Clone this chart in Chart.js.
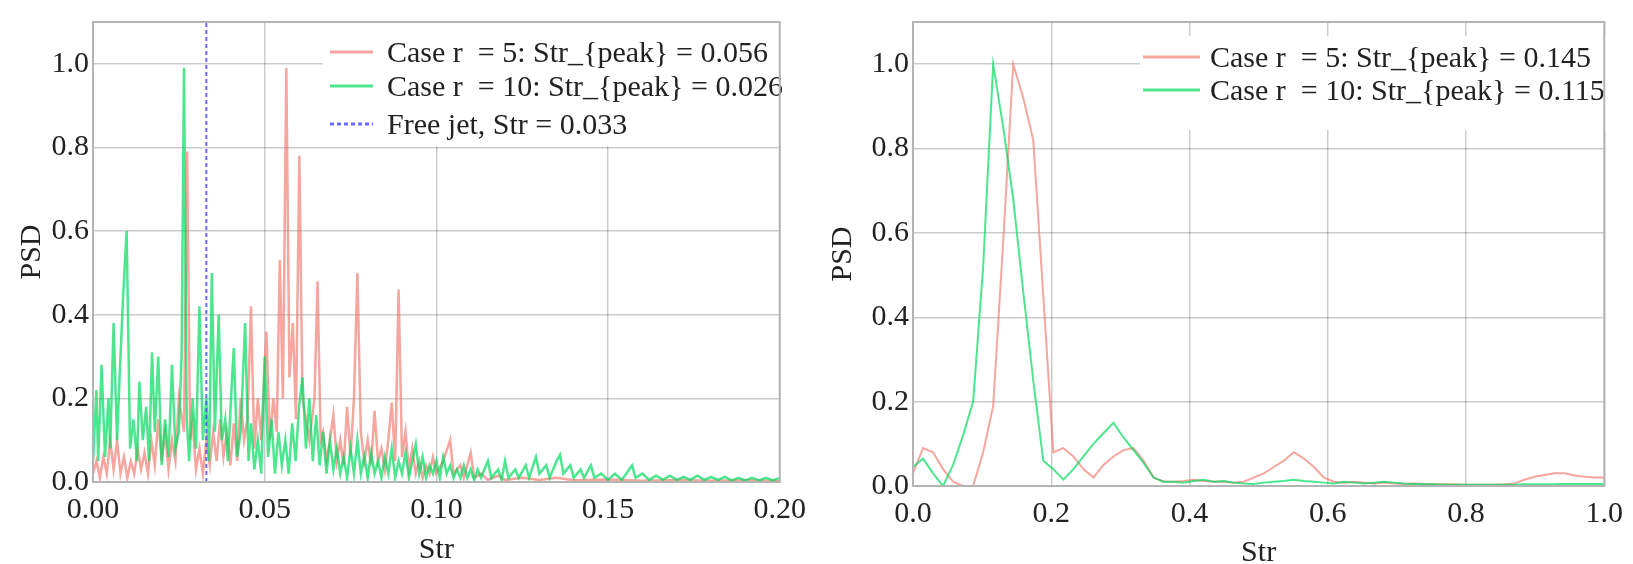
<!DOCTYPE html>
<html>
<head>
<meta charset="utf-8">
<title>PSD comparison</title>
<script src="https://cdn.jsdelivr.net/npm/chart.js@4/dist/chart.umd.min.js"></script>
<style>
  html, body { margin: 0; padding: 0; background: #fff; }
  #wrap { position: relative; width: 1633px; height: 564px; }
  canvas { position: absolute; top: 0; }
  #left { left: 0; }
  #right { left: 816px; }
</style>
</head>
<body>
<div id="wrap">
  <canvas id="left" width="816" height="564"></canvas>
  <canvas id="right" width="817" height="564"></canvas>
</div>
<script>
// left panel, [Str, PSD]
const leftRed = [
  [0,.02],[.001,.05],[.002,.01],[.003,.06],[.004,.02],[.005,.1],[.006,.03],[.007,.1],[.008,.02],[.009,.06],
  [.010,.01],[.011,.05],[.012,.02],[.013,.08],[.014,.03],[.015,.07],[.016,.02],[.017,.1],[.018,.04],[.019,.15],
  [.020,.05],[.021,.12],[.022,.03],[.023,.1],[.024,.05],[.025,.2],[.0265,.12],[.0274,.79],[.0283,.1],[.029,.14],
  [.030,.03],[.031,.08],[.032,.02],[.033,.1],[.034,.04],[.035,.12],[.036,.05],[.037,.15],[.038,.06],[.039,.12],
  [.040,.04],[.041,.14],[.042,.05],[.043,.2],[.044,.1],[.045,.15],[.046,.42],[.047,.08],[.048,.2],[.049,.1],
  [.0505,.36],[.0515,.1],[.0525,.2],[.0535,.12],[.0544,.53],[.0553,.2],[.0563,.99],[.0572,.25],[.0582,.38],[.0591,.15],
  [.0601,.78],[.061,.2],[.062,.15],[.063,.1],[.0645,.2],[.0654,.48],[.0663,.1],[.067,.12],[.068,.05],[.069,.1],
  [.070,.16],[.071,.05],[.072,.1],[.073,.04],[.074,.18],[.075,.06],[.076,.2],[.077,.5],[.078,.12],[.079,.05],
  [.080,.1],[.081,.04],[.082,.17],[.083,.05],[.084,.08],[.085,.03],[.086,.1],[.087,.19],[.088,.05],[.089,.46],
  [.090,.06],[.091,.12],[.092,.03],[.093,.08],[.094,.02],[.095,.05],[.096,.01],[.097,.04],[.098,.02],[.099,.06],
  [.100,.02],[.102,.05],[.104,.1],[.105,.02],[.107,.04],[.108,.01],[.110,.07],[.111,.01],[.113,.02],[.115,.005],
  [.118,.015],[.120,.005],[.125,.01],[.130,.005],[.135,.01],[.140,.004],[.150,.006],[.160,.003],[.170,.005],[.180,.003],
  [.190,.004],[.200,.003]
];
const leftGreen = [
  [0,.05],[.001,.22],[.0015,.05],[.0025,.28],[.0035,.06],[.0045,.2],[.005,.08],[.006,.38],[.007,.1],[.008,.3],
  [.0088,.45],[.0098,.6],[.0108,.08],[.0118,.15],[.0128,.05],[.0135,.24],[.0145,.1],[.0155,.18],[.0163,.05],[.0172,.31],
  [.018,.12],[.019,.3],[.020,.04],[.021,.15],[.022,.06],[.023,.28],[.024,.08],[.025,.12],[.0258,.3],[.0265,.99],
  [.0273,.15],[.028,.05],[.029,.2],[.030,.08],[.031,.42],[.032,.1],[.033,.2],[.0338,.05],[.0346,.5],[.0355,.12],
  [.0366,.4],[.0375,.1],[.0385,.15],[.0393,.05],[.0402,.2],[.041,.32],[.042,.06],[.043,.12],[.0443,.38],[.0453,.05],
  [.046,.14],[.047,.03],[.048,.1],[.049,.02],[.050,.3],[.051,.06],[.052,.15],[.053,.02],[.054,.12],[.055,.04],
  [.056,.1],[.057,.02],[.058,.14],[.059,.05],[.060,.18],[.061,.25],[.062,.08],[.063,.2],[.064,.05],[.065,.16],
  [.066,.04],[.067,.12],[.068,.02],[.069,.1],[.070,.03],[.071,.08],[.072,.02],[.073,.06],[.074,.01],[.075,.08],
  [.076,.02],[.077,.1],[.078,.02],[.079,.06],[.080,.01],[.081,.07],[.082,.02],[.083,.05],[.084,.01],[.085,.06],
  [.086,.02],[.087,.08],[.088,.01],[.089,.05],[.090,.02],[.091,.07],[.092,.01],[.093,.05],[.094,.09],[.095,.02],
  [.096,.06],[.097,.01],[.098,.04],[.099,.02],[.100,.05],[.101,.01],[.102,.06],[.103,.02],[.104,.04],[.105,.01],
  [.106,.03],[.107,.01],[.108,.04],[.109,.01],[.110,.03],[.111,.005],[.112,.03],[.113,.01],[.115,.05],[.116,.01],
  [.118,.03],[.119,.005],[.120,.05],[.121,.01],[.123,.03],[.124,.01],[.126,.04],[.127,.01],[.129,.06],[.130,.02],
  [.132,.04],[.133,.01],[.135,.05],[.136,.065],[.137,.02],[.139,.04],[.140,.01],[.142,.03],[.143,.01],[.145,.04],
  [.146,.01],[.148,.02],[.150,.005],[.152,.02],[.154,.005],[.157,.04],[.158,.01],[.160,.02],[.162,.005],[.164,.015],
  [.166,.005],[.168,.015],[.170,.005],[.172,.012],[.174,.005],[.176,.015],[.178,.005],[.180,.012],[.182,.005],[.184,.012],
  [.186,.004],[.188,.01],[.190,.004],[.192,.01],[.194,.004],[.196,.01],[.198,.004],[.200,.01]
];
const freeJetStr = 0.033;

// right panel, coarser frequency bins
const rightStr = [
  0, .0145, .029, .0435, .058, .0725, .087, .1015, .116, .1305,
  .145, .1595, .174, .1885, .203, .2175, .232, .2465, .261, .2755,
  .29, .3045, .319, .3335, .348, .3625, .377, .3915, .406, .4205,
  .435, .4495, .464, .4785, .493, .5075, .522, .5365, .551, .5655,
  .58, .5945, .609, .6235, .638, .6525, .667, .6815, .696, .7105,
  .725, .7395, .754, .7685, .783, .7975, .812, .8265, .841, .8555,
  .87, .8845, .899, .9135, .928, .9425, .957, .9715, .986, 1.0005
];
const rightRed = [
  .03, .09, .08, .04, .01, 0, 0, .08, .19, .58,
  1.0, .92, .82, .45, .08, .09, .07, .04, .02, .05,
  .07, .085, .09, .06, .02, .01, .01, .012, .015, .012,
  .01, .01, .008, .01, .02, .03, .045, .06, .08, .065,
  .045, .02, .01, .008, .01, .008, .006, .008, .006, .005,
  .006, .005, .004, .004, .004, .003, .003, .003, .003, .004,
  .006, .015, .022, .026, .03, .03, .025, .022, .02, .02
];
const rightGreen = [
  .045, .065, .03, 0, .05, .12, .2, .52, 1.0, .85,
  .68, .46, .25, .06, .04, .015, .04, .07, .1, .125,
  .15, .115, .085, .055, .02, .01, .01, .008, .012, .015,
  .01, .012, .008, .006, .005, .008, .01, .012, .015, .012,
  .01, .008, .006, .01, .008, .006, .008, .01, .008, .006,
  .005, .004, .004, .003, .003, .003, .003, .003, .003, .003,
  .003, .004, .004, .004, .004, .005, .005, .005, .005, .005
];

const leftLabels = ['Case r  = 5: Str_{peak} = 0.056', 'Case r  = 10: Str_{peak} = 0.026', 'Free jet, Str = 0.033'];
const rightLabels = ['Case r  = 5: Str_{peak} = 0.145', 'Case r  = 10: Str_{peak} = 0.115'];

const RED = 'rgba(240,105,95,0.6)';
const GREEN = 'rgba(0,220,95,0.7)';
const BLUE = 'rgba(70,70,255,0.8)';
const FONT = "'Liberation Serif', 'DejaVu Serif', serif";

Chart.defaults.font.family = FONT;
Chart.defaults.font.size = 30;
Chart.defaults.color = '#222';

// white legend box, line samples and the grey frame round the plot area
const frameAndLegend = {
  id: 'frameAndLegend',
  afterDatasetsDraw(chart, args, opts) {
    const ctx = chart.ctx;
    const ds = chart.data.datasets;
    ctx.save();
    const [x0, y0, x1, y1] = opts.box;
    ctx.fillStyle = '#fff';
    ctx.fillRect(x0, y0, x1 - x0, y1 - y0);
    ctx.font = '30px ' + FONT;
    ctx.textBaseline = 'middle';
    opts.rows.forEach((y, i) => {
      const d = ds[i];
      ctx.strokeStyle = d.borderColor;
      ctx.lineWidth = 3;
      ctx.setLineDash(d.borderDash || []);
      ctx.beginPath();
      ctx.moveTo(opts.lineX[0], y);
      ctx.lineTo(opts.lineX[1], y);
      ctx.stroke();
      ctx.setLineDash([]);
      ctx.fillStyle = '#222';
      ctx.fillText(d.label, opts.textX, y + 2);
    });
    const a = chart.chartArea;
    ctx.strokeStyle = '#b4b4b4';
    ctx.lineWidth = 2;
    ctx.strokeRect(a.left, a.top, a.right - a.left, a.bottom - a.top);
    ctx.restore();
  }
};

function makeChart(id, datasets, xCfg, box) {
  return new Chart(document.getElementById(id), {
    type: 'line',
    data: { datasets },
    plugins: [frameAndLegend],
    options: {
      responsive: false,
      animation: false,
      layout: { padding: box.padding },
      elements: { point: { radius: 0 }, line: { tension: 0 } },
      plugins: {
        legend: { display: false },
        tooltip: { enabled: false },
        frameAndLegend: box.legend
      },
      scales: {
        x: {
          type: 'linear',
          min: xCfg.min, max: xCfg.max,
          afterFit: s => { s.height = box.xHeight; },
          grid: { color: 'rgba(0,0,0,0.2)', lineWidth: 1.5, drawTicks: false },
          border: { display: false },
          ticks: {
            stepSize: xCfg.step, autoSkip: false, maxRotation: 0, padding: box.xTickPad,
            callback: v => v.toFixed(xCfg.dec)
          },
          title: { display: true, text: 'Str', padding: { top: 0, bottom: box.xTitlePad } }
        },
        y: {
          min: 0, max: 1.1,
          afterFit: s => { s.width = box.yWidth; },
          grid: { color: 'rgba(0,0,0,0.2)', lineWidth: 1.5, drawTicks: false },
          border: { display: false },
          ticks: {
            stepSize: 0.2, includeBounds: false, padding: 4,
            callback: v => v.toFixed(1)
          },
          title: { display: true, text: 'PSD', padding: { top: box.yTitlePad, bottom: 0 } }
        }
      }
    }
  });
}

const toXY = arr => arr.map(p => ({ x: p[0], y: p[1] }));

makeChart('left', [
  { label: leftLabels[0], data: toXY(leftRed), borderColor: RED, borderWidth: 2.5, order: 3 },
  { label: leftLabels[1], data: toXY(leftGreen), borderColor: GREEN, borderWidth: 2.5, order: 2 },
  { label: leftLabels[2], data: [{ x: freeJetStr, y: 0 }, { x: freeJetStr, y: 1.1 }],
    borderColor: BLUE, borderWidth: 2, borderDash: [4, 3], order: 1 }
], { min: 0, max: 0.2, step: 0.05, dec: 2 }, {
  padding: { top: 18, right: 29, bottom: 0, left: 0 },
  yWidth: 93, xHeight: 82, xTickPad: 10, xTitlePad: -4, yTitlePad: 14,
  legend: { box: [323, 22, 786, 146], rows: [52, 86, 124], lineX: [330, 373], textX: 387 }
});

makeChart('right', [
  { label: rightLabels[0], data: rightStr.map((s, i) => ({ x: s, y: rightRed[i] })), borderColor: RED, borderWidth: 2, order: 2 },
  { label: rightLabels[1], data: rightStr.map((s, i) => ({ x: s, y: rightGreen[i] })), borderColor: GREEN, borderWidth: 2, order: 1 }
], { min: 0, max: 1.0, step: 0.2, dec: 1 }, {
  padding: { top: 15, right: 26, bottom: 0, left: 0 },
  yWidth: 97, xHeight: 78, xTickPad: 10, xTitlePad: -7, yTitlePad: 9,
  legend: { box: [324, 36, 790, 130], rows: [57, 90], lineX: [327, 384], textX: 394 }
});
</script>
</body>
</html>
